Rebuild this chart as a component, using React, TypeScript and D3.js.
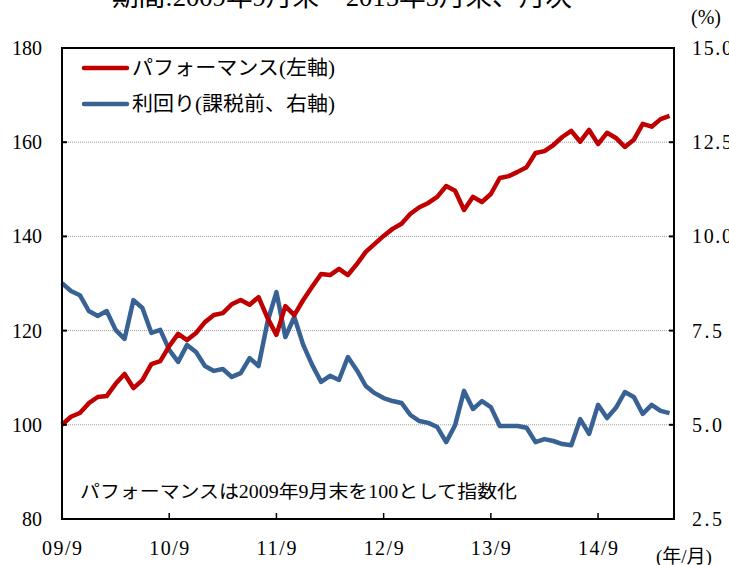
import * as d3 from "d3";

// monthly, 2009/9 .. 2015/5
const performance = [
  100, 101.7, 102.5, 104.6, 105.9, 106.1, 108.7, 110.8, 107.8, 109.5, 112.9, 113.5,
  116.7, 119.3, 118, 119.5, 121.8, 123.3, 123.7, 125.6, 126.5, 125.5, 127.1, 122.7,
  119.1, 125.2, 123.3, 126.5, 129.3, 132, 131.8, 133.1, 131.8, 134.1, 136.7, 138.4,
  140.1, 141.6, 142.7, 144.8, 146.2, 147.1, 148.4, 150.7, 149.7, 145.6, 148.4, 147.3,
  149, 152.4, 152.8, 153.7, 154.7, 157.7, 158.1, 159.4, 161.1, 162.4, 160.1, 162.6,
  159.6, 162, 160.9, 159, 160.5, 163.9, 163.3, 164.9, 165.6,
];

const yieldPct = [
  8.76, 8.55, 8.44, 8.02, 7.89, 8.02, 7.52, 7.28, 8.31, 8.1, 7.44, 7.52,
  6.99, 6.67, 7.12, 6.93, 6.56, 6.43, 6.48, 6.27, 6.37, 6.77, 6.56, 7.73,
  8.52, 7.33, 7.86, 7.12, 6.59, 6.14, 6.3, 6.19, 6.8, 6.45, 6.03, 5.84,
  5.71, 5.63, 5.58, 5.26, 5.1, 5.05, 4.94, 4.54, 4.99, 5.9, 5.42, 5.63,
  5.47, 4.97, 4.97, 4.97, 4.92, 4.54, 4.62, 4.57, 4.49, 4.46, 5.15, 4.76,
  5.53, 5.18, 5.45, 5.87, 5.74, 5.29, 5.53, 5.37, 5.31,
];

const xTickLabels = ["09/9", "10/9", "11/9", "12/9", "13/9", "14/9"];
const leftTicks = [80, 100, 120, 140, 160, 180];
const rightTicks = [2.5, 5.0, 7.5, 10.0, 12.5, 15.0];

const W = 729;
const H = 565;
const left = 62;
const right = 674;
const top = 48;
const bottom = 519;

const FONT = "'Liberation Serif', 'DejaVu Serif', 'Noto Sans CJK JP', serif";
const RED = "#c00000";
const BLUE = "#386294";

// half-width chars are 10px wide at this size, like the reference font
const numWidth = (s: string) => s.length * 10;

export default function App() {
  const x = d3.scaleLinear().domain([0, 68.5]).range([left, right]);
  const yL = d3.scaleLinear().domain([80, 180]).range([bottom, top]);
  const yR = d3.scaleLinear().domain([2.5, 15]).range([bottom, top]);

  const lineL = d3
    .line<number>()
    .x((_, i) => x(i))
    .y((d) => yL(d));
  const lineR = d3
    .line<number>()
    .x((_, i) => x(i))
    .y((d) => yR(d));

  return (
    <svg
      width={W}
      height={H}
      style={{ position: "absolute", left: 0, top: 0, background: "#fff" }}
      fontFamily={FONT}
    >
      <text x={342} y={6} fontSize={26} textAnchor="middle" fill="#000" textLength={460} lengthAdjust="spacingAndGlyphs">
        期間:2009年9月末～2015年5月末、月次
      </text>

      {/* gridlines */}
      {leftTicks.slice(1, -1).map((t) => (
        <line
          key={`g${t}`}
          x1={left}
          x2={right}
          y1={yL(t)}
          y2={yL(t)}
          stroke="#9a9a9a"
          strokeWidth={1}
          strokeDasharray="1,1"
        />
      ))}

      {/* series */}
      <path d={lineR(yieldPct) ?? ""} fill="none" stroke={BLUE} strokeWidth={4.5} strokeLinejoin="round" />
      <path d={lineL(performance) ?? ""} fill="none" stroke={RED} strokeWidth={4.5} strokeLinejoin="round" />

      {/* frame */}
      <rect x={left} y={top} width={right - left} height={bottom - top} fill="none" stroke="#000" strokeWidth={2} />

      {/* left axis */}
      {leftTicks.map((t) => (
        <g key={`l${t}`}>
          <line x1={left} x2={left + 5} y1={yL(t)} y2={yL(t)} stroke="#000" strokeWidth={2} />
          <text
            x={42 - numWidth(String(t))}
            y={yL(t) + 7}
            fontSize={20}
            textLength={numWidth(String(t))}
            lengthAdjust="spacing"
          >
            {t}
          </text>
        </g>
      ))}

      {/* right axis */}
      {rightTicks.map((t) => (
        <g key={`r${t}`}>
          <line x1={right - 5} x2={right} y1={yR(t)} y2={yR(t)} stroke="#000" strokeWidth={2} />
          <text x={692} y={yR(t) + 7} fontSize={20} textLength={numWidth(t.toFixed(1))} lengthAdjust="spacing">
            {t.toFixed(1)}
          </text>
        </g>
      ))}
      <text x={691} y={24} fontSize={20}>
        (%)
      </text>

      {/* x axis */}
      {xTickLabels.map((lab, i) => (
        <g key={lab}>
          <line x1={x(i * 12)} x2={x(i * 12)} y1={bottom} y2={bottom - 6} stroke="#000" strokeWidth={1.5} />
          <text
            x={x(i * 12) - numWidth(lab) / 2}
            y={555}
            fontSize={20}
            textLength={numWidth(lab)}
            lengthAdjust="spacing"
          >
            {lab}
          </text>
        </g>
      ))}
      <text x={656} y={563} fontSize={19}>
        (年/月)
      </text>

      {/* legend */}
      <line x1={84} x2={127} y1={68} y2={68} stroke={RED} strokeWidth={4.5} strokeLinecap="round" />
      <text x={132} y={75} fontSize={20} textLength={203} lengthAdjust="spacingAndGlyphs">
        パフォーマンス(左軸)
      </text>
      <line x1={84} x2={127} y1={104} y2={104} stroke={BLUE} strokeWidth={4.5} strokeLinecap="round" />
      <text x={132} y={111} fontSize={20} textLength={203} lengthAdjust="spacingAndGlyphs">
        利回り(課税前、右軸)
      </text>

      <text x={80} y={498} fontSize={18} textLength={437} lengthAdjust="spacingAndGlyphs">
        パフォーマンスは2009年9月末を100として指数化
      </text>
    </svg>
  );
}
